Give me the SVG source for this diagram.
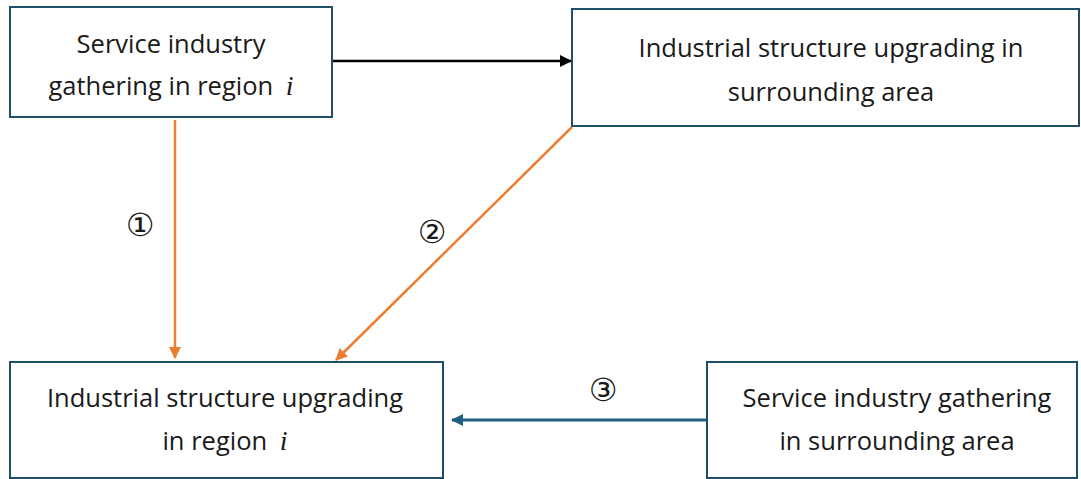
<svg xmlns="http://www.w3.org/2000/svg" width="1081" height="479" viewBox="0 0 1081 479">
<style>
.box{fill:#fff;stroke:#1f4e6b;stroke-width:2}
.t{font-family:"Open Sans","Noto Sans",sans-serif;font-size:25.5px;fill:#1a1a1a;text-anchor:middle}
.i{font-family:"Liberation Serif",serif;font-style:italic;font-size:28px}
.n{font-family:"DejaVu Sans",sans-serif;font-size:32px;fill:#1a1a1a;text-anchor:middle}
</style>
<defs>
<marker id="ab" markerWidth="12" markerHeight="12" refX="11" refY="6" orient="auto" markerUnits="userSpaceOnUse"><path d="M0,0 L12,6 L0,12 z" fill="#000"/></marker>
<marker id="ao" markerWidth="12" markerHeight="12" refX="11" refY="6" orient="auto" markerUnits="userSpaceOnUse"><path d="M0,0 L12,6 L0,12 z" fill="#ED7D31"/></marker>
<marker id="au" markerWidth="12" markerHeight="12" refX="11" refY="6" orient="auto" markerUnits="userSpaceOnUse"><path d="M0,0 L12,6 L0,12 z" fill="#1f5f80"/></marker>
</defs>
<g id="connectors">
<line x1="333" y1="61" x2="571" y2="61" stroke="#000" stroke-width="2.5" marker-end="url(#ab)"/>
<line x1="175" y1="120" x2="175" y2="358" stroke="#ED7D31" stroke-width="2.5" marker-end="url(#ao)"/>
<line x1="572" y1="127" x2="336" y2="360" stroke="#ED7D31" stroke-width="2.5" marker-end="url(#ao)"/>
<line x1="706" y1="420" x2="452" y2="420" stroke="#1f5f80" stroke-width="3" marker-end="url(#au)"/>
<text class="n" x="140" y="236">①</text>
<text class="n" x="432" y="243">②</text>
<text class="n" x="603" y="401">③</text>
</g>
<g id="n1">
<rect class="box" x="10" y="7" width="322" height="110"/>
<text class="t" x="171" y="53">Service industry</text>
<text class="t" x="171" y="95">gathering in region <tspan class="i" dx="6">i</tspan></text>
</g>
<g id="n2">
<rect class="box" x="572" y="9" width="507" height="117"/>
<text class="t" x="831" y="57">Industrial structure upgrading in</text>
<text class="t" x="831" y="101">surrounding area</text>
</g>
<g id="n3">
<rect class="box" x="10" y="362" width="433" height="116"/>
<text class="t" x="225" y="407">Industrial structure upgrading</text>
<text class="t" x="225" y="450">in region <tspan class="i" dx="6">i</tspan></text>
</g>
<g id="n4">
<rect class="box" x="707" y="362" width="370" height="116"/>
<text class="t" x="897" y="407">Service industry gathering</text>
<text class="t" x="897" y="450">in surrounding area</text>
</g>
</svg>
